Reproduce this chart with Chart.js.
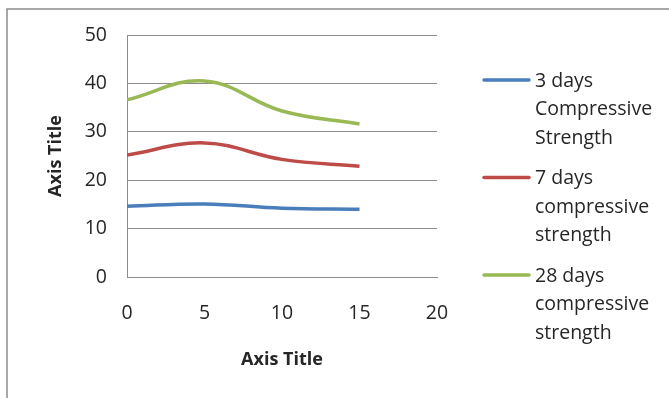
<!DOCTYPE html>
<html>
<head>
<meta charset="utf-8">
<script src="https://cdn.jsdelivr.net/npm/chart.js@4/dist/chart.umd.min.js"></script>
<style>
  html, body { margin: 0; padding: 0; background: #fff; }
  #wrap { width: 669px; height: 398px; position: relative; }
</style>
</head>
<body>
<div id="wrap"><canvas id="c" width="669" height="398"></canvas></div>
<script>
// Replacement level (x) against compressive strength (y)
const xValues = [0, 5, 10, 15];
const strength3 = [14.6, 15.1, 14.2, 14.0];
const strength7 = [25.2, 27.7, 24.3, 22.9];
const strength28 = [36.6, 40.5, 34.3, 31.6];
const seriesNames = ['3 days Compressive Strength', '7 days compressive strength', '28 days compressive strength'];
const seriesColors = ['#4A7EBB', '#BE4B48', '#98B954'];
const xTicks = [0, 5, 10, 15, 20];
const yTicks = [0, 10, 20, 30, 40, 50];

const FONT = '"Open Sans", sans-serif';
const TEXT = '#262626';

function points(ys) { return xValues.map((x, i) => ({ x: x, y: ys[i] })); }

const datasets = [strength3, strength7, strength28].map((ys, i) => ({
  label: seriesNames[i],
  data: points(ys),
  showLine: true,
  borderColor: seriesColors[i],
  backgroundColor: seriesColors[i],
  borderWidth: 3.5,
  pointRadius: 0,
  tension: 0.4,
  fill: false
}));

// Outer frame and wrapped legend on the right
const decor = {
  id: 'decor',
  beforeDraw(chart) {
    const ctx = chart.ctx;
    ctx.save();
    ctx.strokeStyle = '#8c8c8c';
    ctx.lineWidth = 1.5;
    ctx.beginPath();
    ctx.moveTo(7, 398);
    ctx.lineTo(7, 9);
    ctx.lineTo(669, 9);
    ctx.stroke();
    ctx.restore();
  },
  afterDraw(chart) {
    const ctx = chart.ctx;
    ctx.save();
    ctx.font = '19.5px ' + FONT;
    ctx.fillStyle = TEXT;
    ctx.textBaseline = 'middle';
    const lineH = 28.5, groupH = 97.5, top = 80;
    chart.data.datasets.forEach((ds, i) => {
      const y0 = top + i * groupH;
      ctx.strokeStyle = ds.borderColor;
      ctx.lineWidth = 3.5;
      ctx.lineCap = 'round';
      ctx.beginPath();
      ctx.moveTo(484, y0);
      ctx.lineTo(529, y0);
      ctx.stroke();
      // greedy word wrap
      const words = ds.label.split(' ');
      const lines = [];
      let cur = '';
      words.forEach(w => {
        const t = cur ? cur + ' ' + w : w;
        if (cur && ctx.measureText(t).width > 128) { lines.push(cur); cur = w; }
        else cur = t;
      });
      if (cur) lines.push(cur);
      lines.forEach((ln, k) => ctx.fillText(ln, 535, y0 + k * lineH + 1));
    });
    ctx.restore();
  }
};

new Chart(document.getElementById('c'), {
  type: 'scatter',
  data: { datasets },
  options: {
    responsive: false,
    animation: false,
    layout: { padding: { top: 35, right: 232, left: 0, bottom: 0 } },
    plugins: { legend: { display: false }, tooltip: { enabled: false } },
    scales: {
      x: {
        type: 'linear',
        min: 0, max: 20,
        afterBuildTicks(axis) { axis.ticks = xTicks.map(v => ({ value: v })); },
        grid: { display: false, drawTicks: false },
        border: { display: true, color: '#8c8c8c', width: 1 },
        ticks: { color: TEXT, font: { family: FONT, size: 19.5 }, padding: 25 },
        title: { display: true, text: 'Axis Title', color: TEXT, font: { family: FONT, size: 18, weight: 'bold' }, padding: { top: 0, bottom: 27 } },
        afterFit(axis) { axis.height = 121; }
      },
      y: {
        type: 'linear',
        min: 0, max: 50,
        afterBuildTicks(axis) { axis.ticks = yTicks.map(v => ({ value: v })); },
        grid: { color: '#8c8c8c', lineWidth: 1, drawTicks: false },
        border: { display: true, color: '#8c8c8c', width: 1 },
        ticks: { color: TEXT, font: { family: FONT, size: 19.5 }, padding: 20 },
        title: { display: true, text: 'Axis Title', color: TEXT, font: { family: FONT, size: 18, weight: 'bold' }, padding: { top: 45, bottom: 0 } },
        afterFit(axis) { axis.width = 127; }
      }
    }
  },
  plugins: [decor]
});
</script>
</body>
</html>
